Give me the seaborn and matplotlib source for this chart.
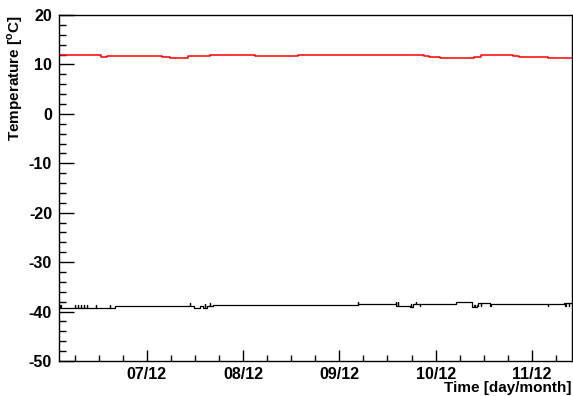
import matplotlib
matplotlib.use("Agg")
import matplotlib.pyplot as plt
import matplotlib.dates as mdates
import pandas as pd
import seaborn as sns

# Hours counted from 06/12 00:00, with the temperature reached at each step
warm_hours = [2.1, 12.5, 14.0, 27.7, 29.7, 34.2, 39.7, 50.9, 61.6, 90.5, 93.0,
              94.3, 97.0, 105.5, 107.2, 115.4, 116.7, 124.1, 130.0]
warm_temp = [11.9, 11.6, 11.8, 11.5, 11.3, 11.8, 12.0, 11.8, 11.9, 12.0, 11.7,
             11.5, 11.2, 11.6, 12.0, 11.7, 11.5, 11.2, 11.2]

cold_hours = [2.1, 2.4, 2.5, 6.0, 6.1, 6.8, 6.9, 7.5, 7.6, 8.3, 8.4, 9.0, 9.1,
              11.3, 11.4, 14.8, 14.9, 16.0, 34.7, 34.8, 35.7, 37.2, 38.0, 38.5,
              38.6, 39.0, 39.7, 39.8, 40.4, 76.6, 76.7, 86.0, 86.1, 86.5, 86.6,
              89.5, 89.8, 89.9, 90.3, 91.0, 91.1, 92.0, 92.1, 101.0, 105.0,
              105.6, 105.7, 106.2, 106.5, 106.6, 107.2, 107.3, 109.6, 109.7,
              124.0, 124.1, 128.0, 128.3, 128.4, 129.2, 129.3, 130.0]
cold_temp = [-39.2, -38.6, -39.2, -38.7, -39.3, -38.7, -39.2, -38.7, -39.3,
             -38.7, -39.2, -38.7, -39.2, -38.6, -39.2, -38.6, -39.2, -38.8,
             -38.3, -38.8, -39.2, -38.8, -39.2, -38.5, -39.2, -38.8, -38.3,
             -38.8, -38.6, -38.1, -38.5, -38.1, -38.8, -38.1, -38.8, -39.0,
             -38.4, -39.0, -38.5, -38.0, -38.5, -38.9, -38.5, -38.1, -39.0,
             -38.6, -39.0, -38.6, -38.9, -38.3, -38.9, -38.3, -38.9, -38.5,
             -38.9, -38.5, -38.3, -38.9, -38.3, -38.9, -38.3, -38.3]

y_ticks = [-50, -40, -30, -20, -10, 0, 10, 20]
start = pd.Timestamp("2010-12-06")

warm = pd.DataFrame({"time": start + pd.to_timedelta(warm_hours, unit="h"),
                     "temp": warm_temp})
cold = pd.DataFrame({"time": start + pd.to_timedelta(cold_hours, unit="h"),
                     "temp": cold_temp})

sns.set_theme(style="white")
plt.rcParams["font.family"] = ["Liberation Sans", "DejaVu Sans"]
plt.rcParams["font.weight"] = "bold"
plt.rcParams["text.color"] = "black"
plt.rcParams["axes.labelcolor"] = "black"
plt.rcParams["mathtext.fontset"] = "custom"
plt.rcParams["mathtext.bf"] = "Liberation Sans:bold"
plt.rcParams["mathtext.rm"] = "Liberation Sans:bold"

fig = plt.figure(figsize=(5.73, 3.96), dpi=100)
ax = fig.add_axes([59 / 573, 35 / 396, 513 / 573, 346 / 396])

sns.lineplot(data=warm, x="time", y="temp", ax=ax, color="#ff0000",
             linewidth=1.1, drawstyle="steps-post", estimator=None)
sns.lineplot(data=cold, x="time", y="temp", ax=ax, color="black",
             linewidth=0.9, drawstyle="steps-post", estimator=None)

ax.set_xlim(start + pd.Timedelta(hours=2.1), start + pd.Timedelta(hours=130))
ax.set_ylim(-50, 20)
ax.set_yticks(y_ticks)
ax.set_yticklabels([str(v) for v in y_ticks])
ax.yaxis.set_minor_locator(matplotlib.ticker.MultipleLocator(2))
ax.xaxis.set_major_locator(mdates.DayLocator())
ax.xaxis.set_minor_locator(mdates.HourLocator(byhour=[6, 12, 18]))
ax.xaxis.set_major_formatter(mdates.DateFormatter("%d/%m"))

ax.tick_params(axis="both", which="both", direction="in", colors="black",
               labelsize=11.5, top=False, right=False, bottom=True, left=True)
ax.tick_params(axis="y", which="major", length=10.5, width=1, pad=5)
ax.tick_params(axis="y", which="minor", length=5, width=1)
ax.tick_params(axis="x", which="major", length=8, width=1, pad=4)
ax.tick_params(axis="x", which="minor", length=4, width=1)
for lbl in ax.get_xticklabels() + ax.get_yticklabels():
    lbl.set_fontweight("bold")

for side in ["left", "right", "top", "bottom"]:
    ax.spines[side].set_visible(True)
    ax.spines[side].set_color("black")
    ax.spines[side].set_linewidth(1.0)

ax.set_ylabel("Temperature [$^{\\mathrm{o}}$C]", loc="top", fontsize=11,
              fontweight="bold", color="black")
ax.yaxis.set_label_coords(-0.066, 1.0)
ax.set_xlabel("Time [day/month]", loc="right", fontsize=11,
              fontweight="bold", color="black")
ax.xaxis.set_label_coords(1.0, -0.058)

fig.savefig("out.png", dpi=100, facecolor="white")
